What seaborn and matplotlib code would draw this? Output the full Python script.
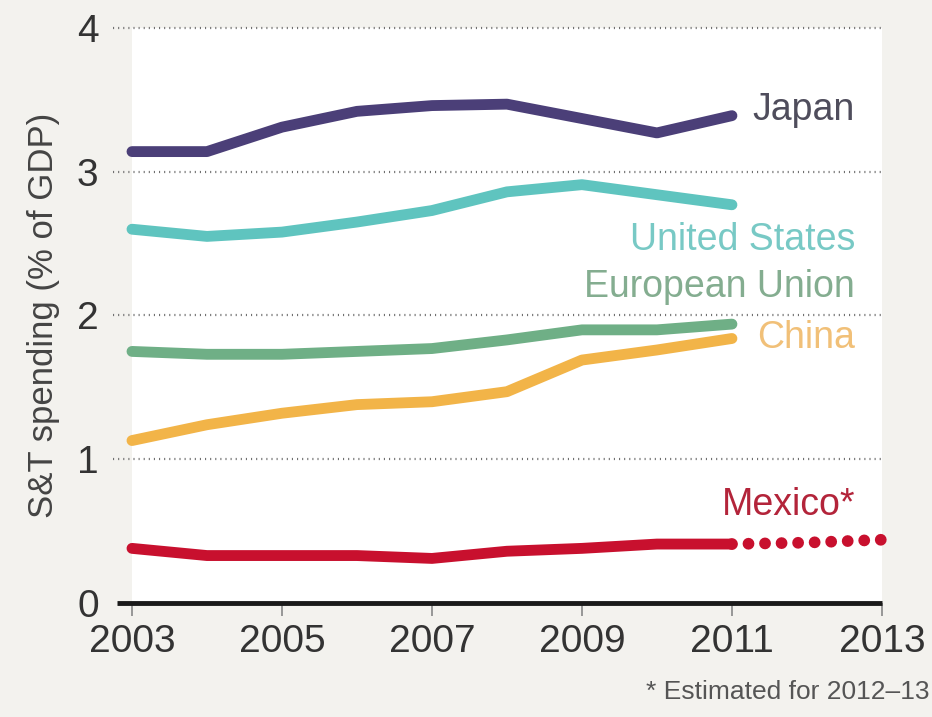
import seaborn as sns
import matplotlib.pyplot as plt
import pandas as pd

# Values (% of GDP)
years = [2003, 2004, 2005, 2006, 2007, 2008, 2009, 2010, 2011]
japan = [3.14, 3.14, 3.31, 3.42, 3.46, 3.47, 3.37, 3.27, 3.39]
united_states = [2.60, 2.55, 2.58, 2.65, 2.73, 2.86, 2.91, 2.84, 2.77]
european_union = [1.75, 1.73, 1.73, 1.75, 1.77, 1.83, 1.90, 1.90, 1.94]
china = [1.13, 1.24, 1.32, 1.38, 1.40, 1.47, 1.69, 1.76, 1.84]
mexico = [0.38, 0.33, 0.33, 0.33, 0.31, 0.36, 0.38, 0.41, 0.41]
mexico_est_years = [2011, 2012, 2013]
mexico_est = [0.41, 0.42, 0.44]

countries = ["Japan", "United States", "European Union", "China", "Mexico"]
line_colors = ["#4b3f78", "#5fc4bf", "#6faf86", "#f2b448", "#c8102e"]
text_colors = ["#4f4d5c", "#78c9c5", "#84ad90", "#f1c078", "#b3243a"]
label_names = ["Japan", "United States", "European Union", "China", "Mexico*"]
label_y = [3.43, 2.525, 2.20, 1.84, 0.68]

xticks = [2003, 2005, 2007, 2009, 2011, 2013]
yticks = [0, 1, 2, 3, 4]

df = pd.DataFrame({
    "year": years * 5,
    "value": japan + united_states + european_union + china + mexico,
    "country": [c for c in countries for _ in years],
})

sns.set_style("white")
plt.rcParams["font.family"] = ["Liberation Sans", "DejaVu Sans"]

bg = "#f3f2ee"
fig = plt.figure(figsize=(9.32, 7.17), dpi=100, facecolor=bg)
ax = fig.add_axes([0.1416, 0.159, 0.8047, 0.802])
ax.set_facecolor("white")

# dotted grid
ax.hlines(yticks[1:], 2002.75, 2013, colors="#707070", linestyles=(0, (0.5, 1.8)),
          linewidth=1.6, clip_on=False, zorder=1)

pal = dict(zip(countries, line_colors))
sns.lineplot(data=df, x="year", y="value", hue="country", palette=pal,
             linewidth=7.8, legend=False, ax=ax, zorder=3)
for ln in ax.get_lines():
    ln.set_solid_capstyle("round")
    ln.set_solid_joinstyle("round")
    ln.set_clip_on(False)

# estimated part for Mexico, drawn as round dots
sns.lineplot(x=mexico_est_years, y=mexico_est, color=line_colors[4], ax=ax,
             linewidth=8.5, zorder=3)
est_line = ax.get_lines()[-1]
est_line.set_linestyle((0, (0.001, 1.40)))
est_line.set_dash_capstyle("round")
est_line.set_clip_on(False)

# series labels
for name, col, yv in zip(label_names, text_colors, label_y):
    ax.text(2012.64, yv, name, color=col, fontsize=27, ha="right", va="center",
            zorder=2, bbox=dict(facecolor="white", edgecolor="none", pad=1))

# x axis line and ticks
ax.hlines(0, 2002.8, 2013, colors="#1a1a1a", linewidth=3.5, clip_on=False, zorder=4)
ax.set_xlim(2003, 2013)
ax.set_ylim(0, 4)
ax.set_xticks(xticks)
ax.set_xticklabels([str(x) for x in xticks])
ax.set_yticks(yticks)
ax.set_yticklabels([str(y) for y in yticks])
ax.tick_params(axis="x", length=9, width=1.2, color="#888888", pad=6,
               labelsize=28, labelcolor="#333333", bottom=True)
ax.tick_params(axis="y", length=0, pad=24, labelsize=28, labelcolor="#333333")
for s in ax.spines.values():
    s.set_visible(False)

ax.set_xlabel("")
ax.set_ylabel("S&T spending (% of GDP)", fontsize=25, color="#444444", labelpad=12)

fig.text(0.997, 0.018, "* Estimated for 2012\u201313", ha="right", va="bottom",
         fontsize=19, color="#555555")

plt.savefig("out.png", dpi=100, facecolor=bg)
